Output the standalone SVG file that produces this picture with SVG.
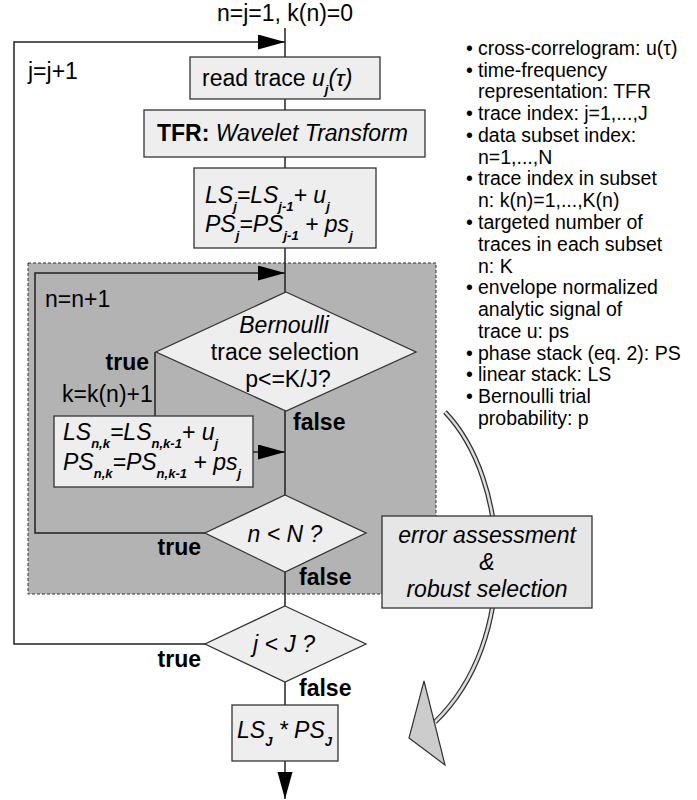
<svg xmlns="http://www.w3.org/2000/svg" width="697" height="800" viewBox="0 0 697 800">
<defs>
<style>
text{font-family:"Liberation Sans",Arial,sans-serif;fill:#000}
.m{font-size:23px}
.l{font-size:19.5px}
.b{font-weight:bold}
.i{font-style:italic}
.s{font-size:13px;font-weight:bold;font-style:italic}
.box{fill:#eeeeee;stroke:#333;stroke-width:1.3}
.ln{fill:none;stroke:#222;stroke-width:1.5}
</style>
<marker id="ah" markerUnits="userSpaceOnUse" markerWidth="28" markerHeight="16" refX="27" refY="7.5" orient="auto">
<path d="M0,0 L27,7.5 L0,15 z" fill="#000"/>
</marker>
</defs>
<rect width="697" height="800" fill="#fff"/>

<g id="region">
<rect x="28" y="263" width="408" height="331" fill="#b3b3b3" stroke="#333" stroke-width="1" stroke-dasharray="3,2"/>
</g>

<g id="connectors">
<path class="ln" d="M285,28 V57"/>
<path class="ln" d="M205,644 H14 V42 H285" marker-end="url(#ah)"/>
<path class="ln" d="M285,99 V110"/>
<path class="ln" d="M285,157 V168"/>
<path class="ln" d="M285,248 V292"/>
<path class="ln" d="M205,533 H35 V273 H285" marker-end="url(#ah)"/>
<path class="ln" d="M155,352 V416"/>
<path class="ln" d="M253,452 H285" marker-end="url(#ah)"/>
<path class="ln" d="M285,411 V495"/>
<path class="ln" d="M285,572 V606"/>
<path class="ln" d="M285,682 V705"/>
<path class="ln" d="M285,761 V799" marker-end="url(#ah)"/>
</g>

<g id="curve">
<path d="M445,412 C510,480 520,640 435,722" fill="none" stroke="#333" stroke-width="5"/>
<path d="M445,412 C510,480 520,640 435,722" fill="none" stroke="#dddddd" stroke-width="2.5"/>
<polygon points="424,681 409,738 445,765" fill="#cccccc" stroke="#333" stroke-width="1.2"/>
</g>

<text class="m" x="285" y="21" text-anchor="middle">n=j=1, k(n)=0</text>
<text class="m" x="28" y="79">j=j+1</text>

<g id="read">
<rect class="box" x="190" y="57" width="190" height="42"/>
<text class="m" x="202" y="86">read trace <tspan class="i">u</tspan><tspan class="s" dy="8">j</tspan><tspan class="i" dy="-8">(τ)</tspan></text>
</g>

<g id="tfr">
<rect class="box" x="144" y="110" width="281" height="47"/>
<text class="m" x="157" y="141"><tspan class="b">TFR:</tspan> <tspan class="i">Wavelet Transform</tspan></text>
</g>

<g id="stack">
<rect class="box" x="194" y="168" width="182" height="80"/>
<text class="m i" x="205" y="203">LS<tspan class="s" dy="8">j</tspan><tspan dy="-8">=LS</tspan><tspan class="s" dy="8">j-1</tspan><tspan dy="-8">+ u</tspan><tspan class="s" dy="8">j</tspan></text>
<text class="m i" x="205" y="232">PS<tspan class="s" dy="8">j</tspan><tspan dy="-8">=PS</tspan><tspan class="s" dy="8">j-1</tspan><tspan dy="-8"> + ps</tspan><tspan class="s" dy="8">j</tspan></text>
</g>

<text class="m" x="45" y="307">n=n+1</text>

<g id="bernoulli">
<polygon class="box" points="286,292 416,352 286,411 156,352"/>
<text class="m i" x="284" y="333" text-anchor="middle">Bernoulli</text>
<text class="m" x="285" y="360" text-anchor="middle">trace selection</text>
<text class="m" x="288" y="387" text-anchor="middle">p&lt;=K/J?</text>
</g>

<text class="m b" x="149" y="370" text-anchor="end">true</text>
<text class="m" x="62" y="402">k=k(n)+1</text>
<text class="m b" x="293" y="430">false</text>

<g id="substack">
<rect class="box" x="54" y="416" width="199" height="71"/>
<text class="m i" x="63" y="440">LS<tspan class="s" dy="8">n,k</tspan><tspan dy="-8">=LS</tspan><tspan class="s" dy="8">n,k-1</tspan><tspan dy="-8">+ u</tspan><tspan class="s" dy="8">j</tspan></text>
<text class="m i" x="63" y="470">PS<tspan class="s" dy="8">n,k</tspan><tspan dy="-8">=PS</tspan><tspan class="s" dy="8">n,k-1</tspan><tspan dy="-8"> + ps</tspan><tspan class="s" dy="8">j</tspan></text>
</g>

<g id="nN">
<polygon class="box" points="285,495 366,533 285,572 205,533"/>
<text class="m i" x="285" y="542" text-anchor="middle">n &lt; N ?</text>
</g>
<text class="m b" x="201" y="555" text-anchor="end">true</text>
<text class="m b" x="299" y="585">false</text>

<g id="jJ">
<polygon class="box" points="285,606 366,644 285,682 205,644"/>
<text class="m i" x="284" y="652" text-anchor="middle">j &lt; J ?</text>
</g>
<text class="m b" x="201" y="667" text-anchor="end">true</text>
<text class="m b" x="299" y="696">false</text>

<g id="result">
<rect class="box" x="232" y="705" width="106" height="56"/>
<text class="m i" x="237" y="738">LS<tspan class="s" dy="8">J</tspan><tspan dy="-8"> * PS</tspan><tspan class="s" dy="8">J</tspan></text>
</g>

<g id="error">
<rect x="382" y="516" width="210" height="92" fill="#e6e6e6" stroke="#333" stroke-width="1.3"/>
<text class="m i" x="487" y="543" text-anchor="middle">error assessment</text>
<text class="m i" x="487" y="570" text-anchor="middle">&amp;</text>
<text class="m i" x="487" y="597" text-anchor="middle">robust selection</text>
</g>

<g id="legend" class="l">
<text class="l" x="466" y="55">•</text><text class="l" x="478" y="55">cross-correlogram: u(τ)</text>
<text class="l" x="466" y="77">•</text><text class="l" x="478" y="77">time-frequency</text>
<text class="l" x="478" y="98">representation: TFR</text>
<text class="l" x="466" y="120">•</text><text class="l" x="478" y="120">trace index: j=1,...,J</text>
<text class="l" x="466" y="142">•</text><text class="l" x="478" y="142">data subset index:</text>
<text class="l" x="478" y="164">n=1,...,N</text>
<text class="l" x="466" y="185">•</text><text class="l" x="478" y="185">trace index in subset</text>
<text class="l" x="478" y="207">n: k(n)=1,...,K(n)</text>
<text class="l" x="466" y="229">•</text><text class="l" x="478" y="229">targeted number of</text>
<text class="l" x="478" y="251">traces in each subset</text>
<text class="l" x="478" y="273">n: K</text>
<text class="l" x="466" y="294">•</text><text class="l" x="478" y="294">envelope normalized</text>
<text class="l" x="478" y="316">analytic signal of</text>
<text class="l" x="478" y="338">trace u: ps</text>
<text class="l" x="466" y="360">•</text><text class="l" x="478" y="360">phase stack (eq. 2): PS</text>
<text class="l" x="466" y="381">•</text><text class="l" x="478" y="381">linear stack: LS</text>
<text class="l" x="466" y="403">•</text><text class="l" x="478" y="403">Bernoulli trial</text>
<text class="l" x="478" y="425">probability: p</text>
</g>
</svg>
